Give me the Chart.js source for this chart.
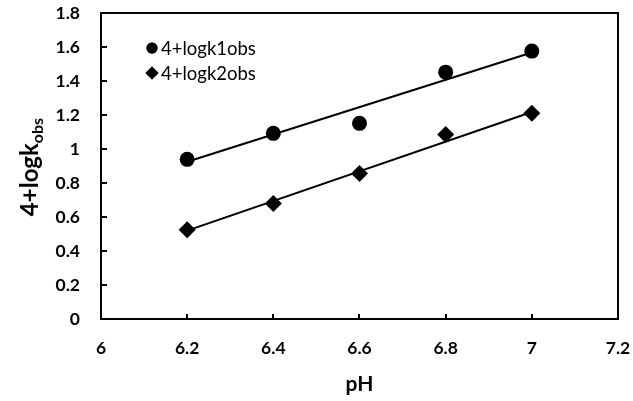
<!DOCTYPE html>
<html>
<head>
<meta charset="utf-8">
<script src="https://cdn.jsdelivr.net/npm/chart.js@4/dist/chart.umd.min.js"></script>
<style>
  html, body { margin: 0; padding: 0; background: #fff; }
  #wrap { width: 633px; height: 401px; }
</style>
</head>
<body>
<div id="wrap"><canvas id="chart" width="633" height="401"></canvas></div>
<script>
/* Data */
const phValues = [6.2, 6.4, 6.6, 6.8, 7.0];
const logk1obs = [0.939, 1.092, 1.151, 1.452, 1.576];
const logk2obs = [0.525, 0.679, 0.856, 1.086, 1.210];

// trendline ends (as drawn in the picture)
const trendX = [6.2, 7.0];
const trend1Y = [0.925, 1.568];
const trend2Y = [0.52, 1.218];

const xTicks = [6, 6.2, 6.4, 6.6, 6.8, 7, 7.2];
const yTicks = [0, 0.2, 0.4, 0.6, 0.8, 1, 1.2, 1.4, 1.6, 1.8];

const seriesNames = ["4+logk1obs", "4+logk2obs"];

function toPoints(xs, ys){
    return xs.map(function(x, i){ return {x: x, y: ys[i]} });
}

const FONT = "Lato, 'Open Sans', sans-serif";

/* box round the plot area, inner tick marks, legend and y title */
const decor = {
    id: "decor",
    afterDraw(chart){
        const ctx = chart.ctx;
        const a = chart.chartArea;
        const xs = chart.scales.x, ys = chart.scales.y;
        ctx.save();
        ctx.strokeStyle = "#000";
        ctx.lineWidth = 2;
        ctx.strokeRect(a.left, a.top, a.right - a.left, a.bottom - a.top);

        // tick marks inside
        ctx.beginPath();
        xTicks.forEach(function(v){
            const px = Math.round(xs.getPixelForValue(v));
            ctx.moveTo(px, a.bottom);
            ctx.lineTo(px, a.bottom - 5);
        });
        yTicks.forEach(function(v){
            const py = Math.round(ys.getPixelForValue(v));
            ctx.moveTo(a.left, py);
            ctx.lineTo(a.left + 6, py);
        });
        ctx.stroke();

        // legend
        const styles = ["circle", "rectRot"];
        const legY = [48, 73];
        ctx.fillStyle = "#000";
        ctx.font = "18.5px " + FONT;
        ctx.textBaseline = "middle";
        ctx.textAlign = "left";
        seriesNames.forEach(function(name, i){
            Chart.helpers.drawPoint(ctx, {pointStyle: styles[i], radius: i == 0 ? 5.5 : 6.5, borderWidth: 0}, 152, legY[i]);
            ctx.fill();
            ctx.fillText(name, 161, legY[i] + 1);
        });

        // y axis title with subscript
        ctx.translate(38, 167);
        ctx.rotate(-Math.PI / 2);
        ctx.textBaseline = "alphabetic";
        ctx.font = "bold 24px " + FONT;
        const main = "4+logk";
        const w1 = ctx.measureText(main).width;
        ctx.font = "bold 16px " + FONT;
        const w2 = ctx.measureText("obs").width;
        const start = -(w1 + w2) / 2;
        ctx.font = "bold 24px " + FONT;
        ctx.fillText(main, start, 0);
        ctx.font = "bold 16px " + FONT;
        ctx.fillText("obs", start + w1, 5);
        ctx.restore();
    }
};

new Chart(document.getElementById("chart"), {
    type: "scatter",
    data: {
        datasets: [
            {
                label: "trend1", type: "line",
                data: toPoints(trendX, trend1Y),
                borderColor: "#000", borderWidth: 2, pointRadius: 0, order: 2
            },
            {
                label: "trend2", type: "line",
                data: toPoints(trendX, trend2Y),
                borderColor: "#000", borderWidth: 2, pointRadius: 0, order: 2
            },
            {
                label: seriesNames[0],
                data: toPoints(phValues, logk1obs),
                pointStyle: "circle", pointRadius: 7.5,
                backgroundColor: "#000", borderColor: "#000", borderWidth: 0, order: 1
            },
            {
                label: seriesNames[1],
                data: toPoints(phValues, logk2obs),
                pointStyle: "rectRot", pointRadius: 8.5,
                backgroundColor: "#000", borderColor: "#000", borderWidth: 0, order: 1
            }
        ]
    },
    options: {
        responsive: false,
        animation: false,
        layout: { padding: { left: 0, top: 13, right: 15, bottom: 0 } },
        plugins: {
            legend: { display: false },
            tooltip: { enabled: false }
        },
        scales: {
            x: {
                type: "linear", min: 6, max: 7.2,
                afterBuildTicks: function(s){ s.ticks = xTicks.map(function(v){ return {value: v} }) },
                afterFit: function(s){ s.height = 82; s.paddingLeft = 0; s.paddingRight = 0 },
                grid: { drawOnChartArea: false, drawTicks: false },
                border: { color: "#000", width: 2 },
                ticks: {
                    color: "#000", padding: 19,
                    font: { family: FONT, size: 17.5, weight: "bold" },
                    callback: function(v){ return String(Math.round(v * 10) / 10) }
                },
                title: {
                    display: true, text: "pH", color: "#000",
                    font: { family: FONT, size: 21, weight: "bold" },
                    padding: { top: 0, bottom: 4 }
                }
            },
            y: {
                type: "linear", min: 0, max: 1.8,
                afterBuildTicks: function(s){ s.ticks = yTicks.map(function(v){ return {value: v} }) },
                afterFit: function(s){ s.width = 101; s.paddingTop = 0; s.paddingBottom = 0 },
                grid: { drawOnChartArea: false, drawTicks: false },
                border: { color: "#000", width: 2 },
                ticks: {
                    color: "#000", padding: 21,
                    font: { family: FONT, size: 17.5, weight: "bold" },
                    callback: function(v){ return String(Math.round(v * 10) / 10) }
                }
            }
        }
    },
    plugins: [decor]
});
</script>
</body>
</html>
